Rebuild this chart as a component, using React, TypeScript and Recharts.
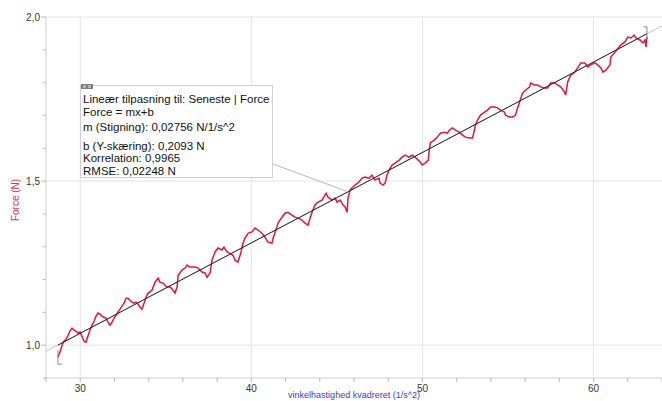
import React from 'react';
import { LineChart, Line, XAxis, YAxis, ReferenceLine } from 'recharts';

// Angular velocity squared (1/s^2) for each logged sample
const vinkel = [
  28.7, 28.82, 28.94, 29.05, 29.17, 29.29, 29.4, 29.52, 29.64, 29.75, 29.87, 29.99, 30.1, 30.22, 30.34, 30.45,
  30.57, 30.69, 30.81, 30.92, 31.04, 31.16, 31.27, 31.39, 31.51, 31.62, 31.74, 31.86, 31.97, 32.09, 32.21, 32.33,
  32.44, 32.56, 32.68, 32.79, 32.91, 33.03, 33.14, 33.26, 33.38, 33.49, 33.61, 33.73, 33.85, 33.96,
  34.2, 34.37, 34.55, 34.66, 34.84, 35.07, 35.25, 35.42, 35.54, 35.66, 35.72, 35.95, 36.13, 36.24, 36.42, 36.71,
  36.89, 37.12, 37.29, 37.41, 37.59, 37.7, 37.88, 38.05, 38.29, 38.4, 38.58, 38.75, 38.93, 39.05, 39.22,
  39.4, 39.51, 39.63, 39.81, 40.04, 40.21, 40.39, 40.62, 40.8, 40.97, 41.21, 41.27, 41.44, 41.56, 41.79, 41.97,
  42.14, 42.38, 42.55, 42.73, 42.96, 43.14, 43.31, 43.43, 43.55, 43.72, 43.9, 44.13, 44.37, 44.48, 44.72, 44.9,
  45.01, 45.19, 45.36, 45.48, 45.6, 45.65, 45.77,
  46.06, 46.29, 46.47, 46.64, 46.88, 47.05, 47.23, 47.46, 47.52, 47.7, 47.82, 47.93, 48.05, 48.23, 48.4, 48.64,
  48.81, 48.99, 49.22, 49.4, 49.57, 49.75, 49.87, 49.99, 50.16, 50.34, 50.4, 50.46, 50.69, 50.87, 51.05, 51.28, 51.46,
  51.57, 51.75, 51.93, 52.16, 52.34, 52.51, 52.75, 52.92, 53.04, 53.1, 53.22, 53.39, 53.63, 53.8, 53.98, 54.21,
  54.39, 54.57, 54.8, 54.86, 55.09, 55.27, 55.44, 55.56, 55.68, 55.85, 56.03, 56.26, 56.32, 56.56, 56.73, 56.91,
  57.14, 57.32,
  57.49, 57.73, 57.9, 58.08, 58.31, 58.37, 58.49, 58.66, 58.9, 59.07, 59.25, 59.48, 59.66, 59.84, 60.07, 60.25,
  60.43, 60.55, 60.72, 60.96, 61.01, 61.25, 61.43, 61.6, 61.83, 62.01, 62.19, 62.36, 62.48, 62.71, 62.89, 63.01,
  63.07, 63.12,
];

// Measured force (N), same order as vinkel
const force = [
  0.963, 0.979, 1.0, 1.012, 1.018, 1.03, 1.043, 1.052, 1.046, 1.043, 1.037, 1.04, 1.027, 1.012, 1.009, 1.027,
  1.046, 1.061, 1.073, 1.088, 1.098, 1.095, 1.088, 1.085, 1.082, 1.07, 1.061, 1.07, 1.082, 1.091, 1.101, 1.11,
  1.119, 1.128, 1.143, 1.143, 1.137, 1.131, 1.128, 1.131, 1.125, 1.116, 1.11, 1.128, 1.146, 1.158,
  1.168, 1.192, 1.204, 1.192, 1.189, 1.177, 1.177, 1.168, 1.159, 1.177, 1.213, 1.229, 1.235, 1.244, 1.238, 1.238,
  1.235, 1.223, 1.22, 1.207, 1.22, 1.259, 1.284, 1.296, 1.29, 1.299, 1.284, 1.28, 1.274, 1.259, 1.253,
  1.284, 1.311, 1.326, 1.341, 1.345, 1.357, 1.351, 1.341, 1.329, 1.314, 1.311, 1.326, 1.351, 1.372, 1.39, 1.402,
  1.405, 1.396, 1.39, 1.387, 1.381, 1.372, 1.366, 1.387, 1.405, 1.427, 1.436, 1.442, 1.463, 1.451, 1.442, 1.448,
  1.436, 1.442, 1.427, 1.421, 1.405, 1.448, 1.473,
  1.488, 1.497, 1.509, 1.512, 1.509, 1.518, 1.503, 1.509, 1.494, 1.488, 1.494, 1.518, 1.534, 1.549, 1.555, 1.564,
  1.573, 1.579, 1.573, 1.579, 1.573, 1.564, 1.558, 1.549, 1.555, 1.564, 1.595, 1.616, 1.625, 1.634, 1.646, 1.649, 1.646,
  1.655, 1.662, 1.655, 1.649, 1.64, 1.634, 1.631, 1.631, 1.655, 1.671, 1.686, 1.701, 1.71, 1.716, 1.726, 1.726,
  1.723, 1.716, 1.71, 1.701, 1.695, 1.695, 1.701, 1.723, 1.741, 1.768, 1.777, 1.787, 1.799, 1.793, 1.793, 1.787,
  1.784, 1.784,
  1.799, 1.799, 1.793, 1.787, 1.771, 1.762, 1.802, 1.823, 1.832, 1.845, 1.86, 1.86, 1.848, 1.854, 1.86, 1.854,
  1.845, 1.832, 1.838, 1.854, 1.878, 1.893, 1.905, 1.915, 1.924, 1.939, 1.936, 1.945, 1.936, 1.93, 1.921, 1.93,
  1.909, 1.939,
];

// Linear fit results
const fitSlope = 0.02756;
const fitIntercept = 0.2093;
const fitLines = [
  'Lineær tilpasning til: Seneste | Force',
  'Force = mx+b',
  'm (Stigning): 0,02756 N/1/s^2',
  'b (Y-skæring): 0,2093 N',
  'Korrelation: 0,9965',
  'RMSE: 0,02248 N',
];

const xDomain = [28, 64];
const yDomain = [0.9, 2.0];
const xTicks = [28, 30, 32, 34, 36, 38, 40, 42, 44, 46, 48, 50, 52, 54, 56, 58, 60, 62, 64];
const xLabelled = [30, 40, 50, 60];
const yTicks = [0.9, 1.0, 1.1, 1.2, 1.3, 1.4, 1.5, 1.6, 1.7, 1.8, 1.9, 2.0];
const yLabelled = [1.0, 1.5, 2.0];

const xTitle = 'vinkelhastighed kvadreret (1/s^2)';
const yTitle = 'Force (N)';

const FONT = '"Liberation Sans", Arial, sans-serif';
const RED = '#e8123f';

const fit = (x: number) => fitIntercept + fitSlope * x;

const measured = vinkel.map((x, i) => ({ x, force: force[i] }));
const xFirst = vinkel[0];
const xLast = vinkel[vinkel.length - 1];
const fitSpan = [
  { x: xFirst, fit: fit(xFirst) },
  { x: xLast, fit: fit(xLast) },
];
const fitExtended = [
  { x: xDomain[0], ext: fit(xDomain[0]) },
  { x: xDomain[1], ext: fit(xDomain[1]) },
];

const isIn = (v: number, list: number[]) => list.some((t) => Math.abs(t - v) < 1e-6);
const comma = (v: number, digits: number) => v.toFixed(digits).replace('.', ',');

const YTick = (props: any) => {
  const { x, y, payload } = props;
  const major = isIn(payload.value, yLabelled);
  return (
    <g>
      <line x1={x - (major ? 5 : 3)} x2={x} y1={y} y2={y} stroke="#b8b8b8" strokeWidth={1} />
      {major && (
        <text x={x - 6} y={y} textAnchor="end" dominantBaseline="central" fontSize={10} fill="#333" fontFamily={FONT}>
          {comma(payload.value, 1)}
        </text>
      )}
    </g>
  );
};

const XTick = (props: any) => {
  const { x, y, payload } = props;
  const major = isIn(payload.value, xLabelled);
  return (
    <g>
      <line x1={x} x2={x} y1={y} y2={y + 4} stroke="#b8b8b8" strokeWidth={1} />
      {major && (
        <text x={x} y={y + 10} textAnchor="middle" dominantBaseline="central" fontSize={10} fill="#333" fontFamily={FONT}>
          {payload.value}
        </text>
      )}
    </g>
  );
};

const gridColor = '#e4e4e4';

export default function App() {
  return (
    <div style={{ position: 'absolute', left: 0, top: 0, width: 662, height: 401, background: '#fff', overflow: 'hidden' }}>
      <LineChart width={662} height={401} margin={{ top: 17, right: 0, bottom: 0, left: 0 }}>
        <XAxis
          type="number"
          dataKey="x"
          domain={xDomain}
          ticks={xTicks}
          interval={0}
          allowDataOverflow
          height={23}
          tickSize={0}
          tickMargin={0}
          tickLine={false}
          axisLine={{ stroke: '#d0d0d0' }}
          tick={<XTick />}
        />
        <YAxis
          type="number"
          domain={yDomain}
          ticks={yTicks}
          interval={0}
          allowDataOverflow
          width={46}
          tickSize={0}
          tickMargin={0}
          tickLine={false}
          axisLine={{ stroke: '#d0d0d0' }}
          tick={<YTick />}
        />
        {xLabelled.map((v) => (
          <ReferenceLine key={'gx' + v} x={v} stroke={gridColor} strokeWidth={1} />
        ))}
        {yLabelled.map((v) => (
          <ReferenceLine key={'gy' + v} y={v} stroke={gridColor} strokeWidth={1} />
        ))}
        <Line data={fitExtended} dataKey="ext" stroke="#c4c4c4" strokeWidth={1} dot={false} isAnimationActive={false} />
        <Line data={measured} dataKey="force" stroke={RED} strokeWidth={1.5} dot={false} isAnimationActive={false} />
        <Line data={fitSpan} dataKey="fit" stroke="#222" strokeWidth={1} dot={false} isAnimationActive={false} />
        {/* selection brackets at the ends of the fitted range */}
        <ReferenceLine segment={[{ x: xFirst, y: 0.985 }, { x: xFirst, y: 0.942 }]} stroke="#8a8a8a" />
        <ReferenceLine segment={[{ x: xFirst, y: 0.942 }, { x: xFirst + 0.23, y: 0.942 }]} stroke="#8a8a8a" />
        <ReferenceLine segment={[{ x: xLast, y: 1.93 }, { x: xLast, y: 1.97 }]} stroke="#8a8a8a" />
        <ReferenceLine segment={[{ x: xLast, y: 1.97 }, { x: xLast - 0.2, y: 1.97 }]} stroke="#8a8a8a" />
        {/* leader from the fit box to the line */}
        <ReferenceLine segment={[{ x: 41.27, y: 1.552 }, { x: 45.65, y: fit(45.65) }]} stroke="#b8b8b8" />
      </LineChart>

      <div
        style={{
          position: 'absolute', left: 15, top: 200, transform: 'translate(-50%, -50%) rotate(-90deg)',
          fontFamily: FONT, fontSize: 10, color: '#e8305a', whiteSpace: 'nowrap',
        }}
      >
        {yTitle}
      </div>
      <div
        style={{
          position: 'absolute', left: 354, top: 395, transform: 'translate(-50%, -50%)',
          fontFamily: FONT, fontSize: 9, lineHeight: '10px', color: '#3a3ad6', whiteSpace: 'nowrap',
        }}
      >
        {xTitle}
      </div>

      <div
        style={{
          position: 'absolute', left: 80, top: 85, width: 191, height: 91,
          border: '1px solid #cfcfcf', background: '#fff', fontFamily: FONT, fontSize: 11.5, color: '#111',
        }}
      >
        <div style={{ position: 'absolute', left: 0, top: -2, width: 12, height: 5, background: '#7d7d7d' }}>
          <div style={{ position: 'absolute', left: 2, top: 1, width: 3, height: 3, background: '#b5b5b5' }} />
          <div style={{ position: 'absolute', left: 7, top: 1, width: 3, height: 3, background: '#b5b5b5' }} />
        </div>
        {fitLines.map((t, i) => (
          <div
            key={t}
            style={{
              position: 'absolute', left: 2, top: [14, 27, 42, 61, 73, 86][i] - 8,
              lineHeight: '14px', whiteSpace: 'nowrap',
            }}
          >
            {t}
          </div>
        ))}
      </div>
    </div>
  );
}
